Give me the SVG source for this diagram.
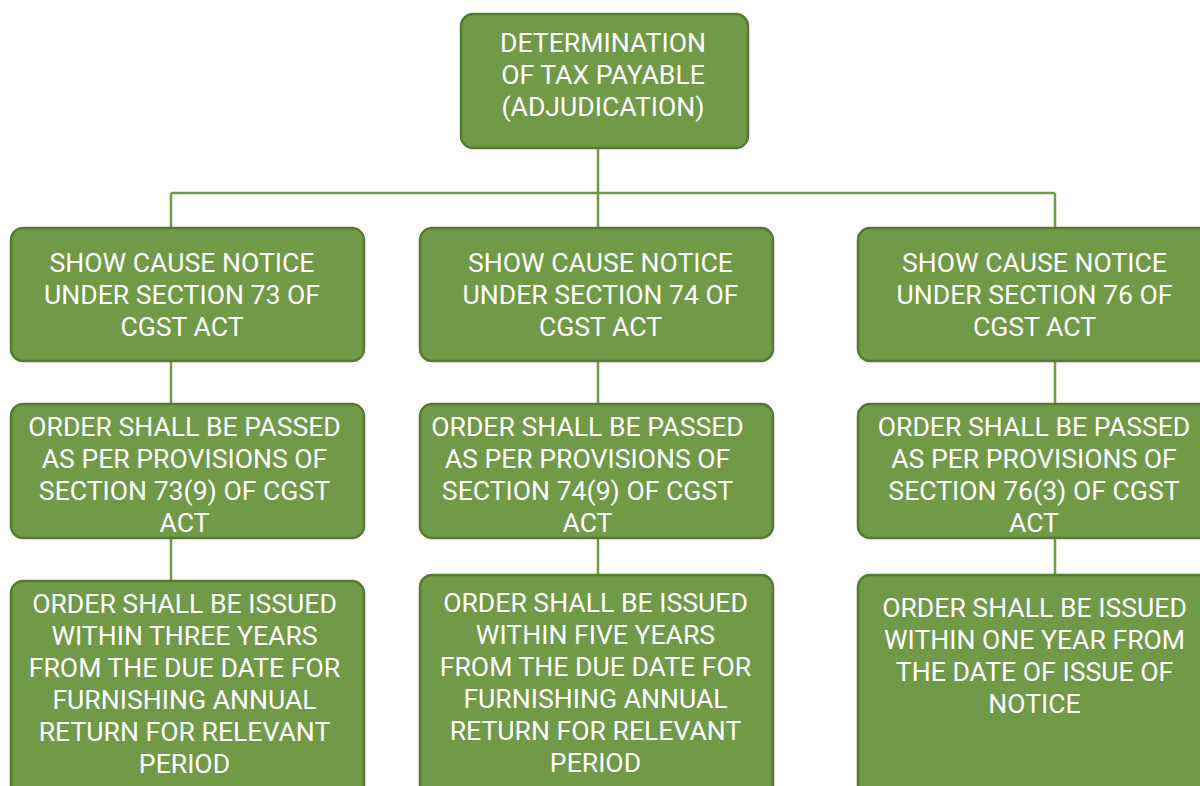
<svg xmlns="http://www.w3.org/2000/svg" width="1200" height="786" viewBox="0 0 1200 786">
<style>
.box{fill:#709a48;stroke:#557a35;stroke-width:2.5}
.t{font-family:Roboto,"Liberation Sans",sans-serif;font-size:26.6px;font-weight:400;fill:#ffffff;text-anchor:middle}
.c{fill:none;stroke:#709a48;stroke-width:2.5}
</style>
<rect width="1200" height="786" fill="#ffffff"/>
<g id="connectors">
<path class="c" d="M598 148V193M171 193H1055M171 193V228M598 193V228M1055 193V228"/>
<path class="c" d="M171 361V404M171 538V581"/>
<path class="c" d="M598 361V404M598 538V575"/>
<path class="c" d="M1055 361V404M1055 538V575"/>
</g>
<g id="n0">
<rect class="box" x="461" y="14" width="287" height="134" rx="12"/>
<text class="t"><tspan x="603" y="52">DETERMINATION</tspan><tspan x="603" y="84">OF TAX PAYABLE</tspan><tspan x="603" y="116">(ADJUDICATION)</tspan></text>
</g>
<g id="n1">
<rect class="box" x="11" y="228" width="353" height="133" rx="12"/>
<text class="t"><tspan x="182" y="272">SHOW CAUSE NOTICE</tspan><tspan x="182" y="304">UNDER SECTION 73 OF</tspan><tspan x="182" y="336">CGST ACT</tspan></text>
</g>
<g id="n2">
<rect class="box" x="11" y="404" width="353" height="134" rx="12"/>
<text class="t"><tspan x="184.5" y="436">ORDER SHALL BE PASSED</tspan><tspan x="184.5" y="468">AS PER PROVISIONS OF</tspan><tspan x="184.5" y="500">SECTION 73(9) OF CGST</tspan><tspan x="184.5" y="532">ACT</tspan></text>
</g>
<g id="n3">
<rect class="box" x="11" y="581" width="353" height="230" rx="12"/>
<text class="t"><tspan x="184.5" y="613">ORDER SHALL BE ISSUED</tspan><tspan x="184.5" y="645">WITHIN THREE YEARS</tspan><tspan x="184.5" y="677">FROM THE DUE DATE FOR</tspan><tspan x="184.5" y="709">FURNISHING ANNUAL</tspan><tspan x="184.5" y="741">RETURN FOR RELEVANT</tspan><tspan x="184.5" y="773">PERIOD</tspan></text>
</g>
<g id="n4">
<rect class="box" x="420" y="228" width="353" height="133" rx="12"/>
<text class="t"><tspan x="600.5" y="272">SHOW CAUSE NOTICE</tspan><tspan x="600.5" y="304">UNDER SECTION 74 OF</tspan><tspan x="600.5" y="336">CGST ACT</tspan></text>
</g>
<g id="n5">
<rect class="box" x="420" y="404" width="353" height="134" rx="12"/>
<text class="t"><tspan x="587.5" y="436">ORDER SHALL BE PASSED</tspan><tspan x="587.5" y="468">AS PER PROVISIONS OF</tspan><tspan x="587.5" y="500">SECTION 74(9) OF CGST</tspan><tspan x="587.5" y="532">ACT</tspan></text>
</g>
<g id="n6">
<rect class="box" x="420" y="575" width="353" height="236" rx="12"/>
<text class="t"><tspan x="595.5" y="612">ORDER SHALL BE ISSUED</tspan><tspan x="595.5" y="644">WITHIN FIVE YEARS</tspan><tspan x="595.5" y="676">FROM THE DUE DATE FOR</tspan><tspan x="595.5" y="708">FURNISHING ANNUAL</tspan><tspan x="595.5" y="740">RETURN FOR RELEVANT</tspan><tspan x="595.5" y="772">PERIOD</tspan></text>
</g>
<g id="n7">
<rect class="box" x="858" y="228" width="353" height="133" rx="12"/>
<text class="t"><tspan x="1034.5" y="272">SHOW CAUSE NOTICE</tspan><tspan x="1034.5" y="304">UNDER SECTION 76 OF</tspan><tspan x="1034.5" y="336">CGST ACT</tspan></text>
</g>
<g id="n8">
<rect class="box" x="858" y="404" width="353" height="134" rx="12"/>
<text class="t"><tspan x="1034" y="436">ORDER SHALL BE PASSED</tspan><tspan x="1034" y="468">AS PER PROVISIONS OF</tspan><tspan x="1034" y="500">SECTION 76(3) OF CGST</tspan><tspan x="1034" y="532">ACT</tspan></text>
</g>
<g id="n9">
<rect class="box" x="858" y="575" width="353" height="236" rx="12"/>
<text class="t"><tspan x="1034.5" y="617">ORDER SHALL BE ISSUED</tspan><tspan x="1034.5" y="649">WITHIN ONE YEAR FROM</tspan><tspan x="1034.5" y="681">THE DATE OF ISSUE OF</tspan><tspan x="1034.5" y="713">NOTICE</tspan></text>
</g>
</svg>
